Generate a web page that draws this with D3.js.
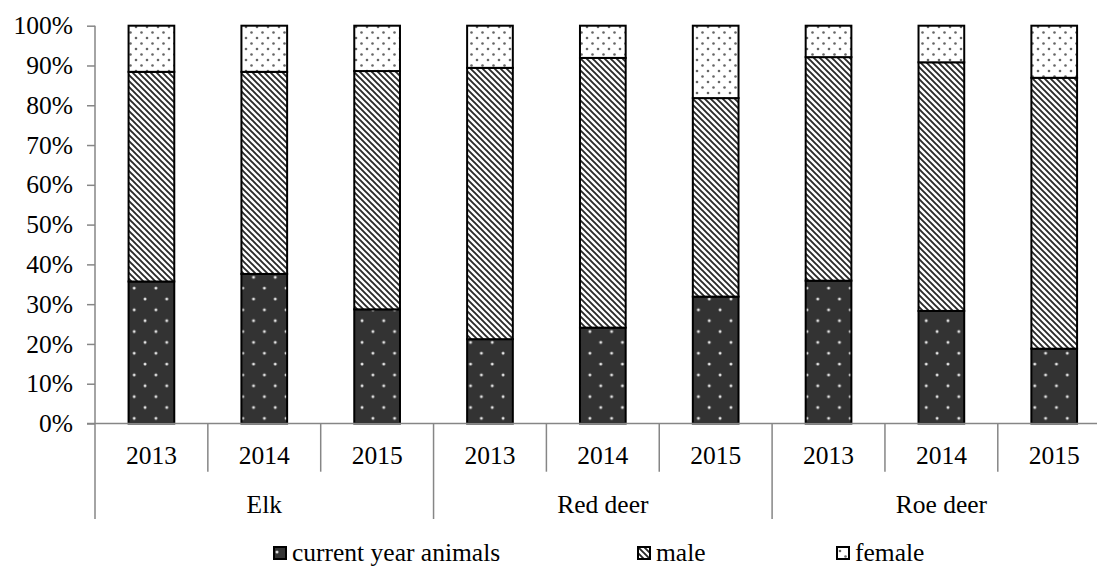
<!DOCTYPE html>
<html>
<head>
<meta charset="utf-8">
<script src="https://cdn.jsdelivr.net/npm/d3@7"></script>
<style>
  html, body { margin: 0; padding: 0; background: #fff; }
  svg { display: block; }
  text { font-family: "Liberation Serif", "Times New Roman", serif; fill: #000; }
</style>
</head>
<body>
<div id="chart"></div>
<script>
// ---- data ----
const groups = ["Elk", "Red deer", "Roe deer"];
const years = ["2013", "2014", "2015"];
const seriesNames = ["current year animals", "male", "female"];
const currentYear = [35.7, 37.6, 28.7, 21.2, 24.1, 31.9, 35.9, 28.3, 18.8];
const male        = [52.7, 50.8, 59.9, 68.2, 67.8, 49.9, 56.2, 62.5, 68.1];
const female      = [11.6, 11.6, 11.4, 10.6, 8.1, 18.2, 7.9, 9.2, 13.1];
const yTicks = [0, 0.1, 0.2, 0.3, 0.4, 0.5, 0.6, 0.7, 0.8, 0.9, 1.0];

// ---- build rows ----
const rows = [];
groups.forEach((g, gi) => years.forEach((yr, yi) => {
  const i = gi * 3 + yi;
  const tot = currentYear[i] + male[i] + female[i];
  rows.push({ key: g + "|" + yr, group: g, year: yr,
    "current year animals": currentYear[i] / tot,
    "male": male[i] / tot,
    "female": female[i] / tot });
}));

const W = 1097, H = 569;
const x0 = 95, band = 112.85;
const svg = d3.select("#chart").append("svg").attr("width", W).attr("height", H);

// ---- patterns ----
const defs = svg.append("defs");
const pc = defs.append("pattern").attr("id", "pCur").attr("patternUnits", "userSpaceOnUse")
  .attr("width", 21.7).attr("height", 21.7).attr("x", 0).attr("y", 2);
pc.append("rect").attr("width", 21.7).attr("height", 21.7).attr("fill", "#333333");
pc.append("circle").attr("cx", 4).attr("cy", 4).attr("r", 1.6).attr("fill", "#b8b8b8");
pc.append("circle").attr("cx", 4).attr("cy", 4).attr("r", 0.9).attr("fill", "#ffffff");
pc.append("circle").attr("cx", 14.85).attr("cy", 14.85).attr("r", 1.6).attr("fill", "#b8b8b8");
pc.append("circle").attr("cx", 14.85).attr("cy", 14.85).attr("r", 0.9).attr("fill", "#ffffff");

const pm = defs.append("pattern").attr("id", "pMale").attr("patternUnits", "userSpaceOnUse")
  .attr("width", 6).attr("height", 6);
pm.append("rect").attr("width", 6).attr("height", 6).attr("fill", "#fff");
pm.append("path").attr("d", "M-1,5 l2,2 M0,0 l6,6 M5,-1 l2,2")
  .attr("stroke", "#2a2a2a").attr("stroke-width", 1.9);

const pf = defs.append("pattern").attr("id", "pFem").attr("patternUnits", "userSpaceOnUse")
  .attr("width", 11).attr("height", 11).attr("x", 1).attr("y", 2);
pf.append("rect").attr("width", 11).attr("height", 11).attr("fill", "#fff");
pf.append("circle").attr("cx", 3).attr("cy", 3).attr("r", 1.3).attr("fill", "#666");
pf.append("circle").attr("cx", 8.5).attr("cy", 8.5).attr("r", 1.3).attr("fill", "#666");

const fills = { "current year animals": "url(#pCur)", "male": "url(#pMale)", "female": "url(#pFem)" };

// ---- scales ----
const x = d3.scaleBand().domain(rows.map(d => d.key)).range([x0, x0 + band * rows.length]).padding(0);
const y = d3.scaleLinear().domain([0, 1]).range([423.5, 25.7]);
const barW = x.bandwidth() * 0.405;

// ---- y axis ----
const yAxis = d3.axisLeft(y).tickValues(yTicks).tickFormat(d3.format(".0%")).tickSize(8).tickPadding(14);
const yg = svg.append("g").attr("transform", `translate(${x0},0)`).call(yAxis);
yg.select(".domain").remove();
yg.selectAll(".tick line").attr("stroke", "#868686").attr("stroke-width", 1.5);
yg.selectAll(".tick text").attr("font-size", 25.5).attr("font-family", "Liberation Serif").attr("fill", "#000");

// ---- bars ----
const stack = d3.stack().keys(seriesNames)(rows);
const layers = svg.append("g").selectAll("g").data(stack).join("g")
  .attr("fill", d => fills[d.key]);
layers.selectAll("rect").data(d => d).join("rect")
  .attr("x", d => x(d.data.key) + (x.bandwidth() - barW) / 2)
  .attr("y", d => y(d[1]))
  .attr("width", barW)
  .attr("height", d => y(d[0]) - y(d[1]))
  .attr("stroke", "#000").attr("stroke-width", 2);

// ---- category axis ----
const ax = svg.append("g").attr("stroke", "#868686").attr("stroke-width", 1.5);
ax.append("line").attr("x1", 87).attr("x2", x0 + band * rows.length).attr("y1", y(0)).attr("y2", y(0));
ax.append("line").attr("x1", x0).attr("x2", x0).attr("y1", y(1)).attr("y2", y(0));
d3.range(0, rows.length + 1).forEach(i => {
  const xx = i === rows.length ? x.range()[1] : x(rows[i].key);
  ax.append("line").attr("x1", xx).attr("x2", xx).attr("y1", y(0))
    .attr("y2", i % 3 === 0 ? 519 : 471.7);
});

svg.append("g").selectAll("text").data(rows).join("text")
  .attr("x", d => x(d.key) + x.bandwidth() / 2)
  .attr("y", 464)
  .attr("text-anchor", "middle").attr("font-size", 25.5)
  .text(d => d.year);

svg.append("g").selectAll("text").data(groups).join("text")
  .attr("x", (d, i) => (x(rows[i * 3].key) + x(rows[i * 3 + 2].key) + x.bandwidth()) / 2)
  .attr("y", 513)
  .attr("text-anchor", "middle").attr("font-size", 25.5)
  .text(d => d);

// ---- legend ----
const legX = [273, 637, 836];
const lg = svg.append("g").selectAll("g").data(seriesNames).join("g")
  .attr("transform", (d, i) => `translate(${legX[i]},546)`);
lg.append("rect").attr("x", 1).attr("y", 1).attr("width", 12).attr("height", 12)
  .attr("fill", d => fills[d]).attr("stroke", "#000").attr("stroke-width", 2);
lg.append("text").attr("x", 19).attr("y", 15).attr("font-size", 25.5).text(d => d);
</script>
</body>
</html>
